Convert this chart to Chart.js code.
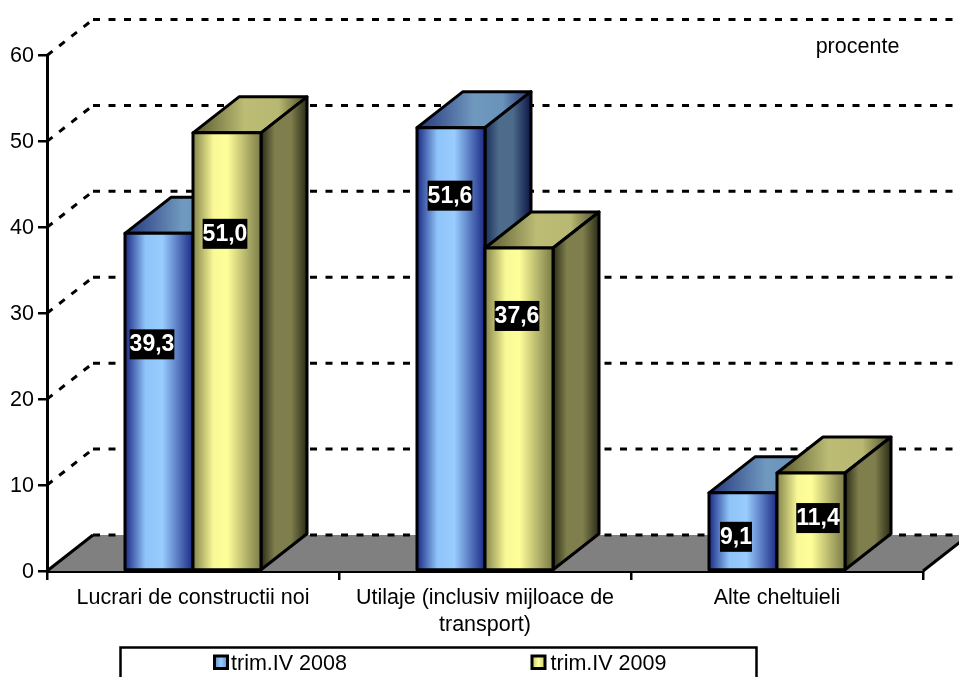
<!DOCTYPE html>
<html>
<head>
<meta charset="utf-8">
<style>
  html, body { margin: 0; background: #fff; overflow: hidden; }
  canvas { display: block; }
</style>
<script src="https://cdn.jsdelivr.net/npm/chart.js@4"></script>
</head>
<body>
<canvas id="grafic" width="959" height="677"></canvas>
<script>
const categories = ['Lucrari de constructii noi', ['Utilaje (inclusiv mijloace de', 'transport)'], 'Alte cheltuieli']
const trim2008 = [39.3, 51.6, 9.1]
const trim2009 = [51.0, 37.6, 11.4]
const seriesNames = ['trim.IV 2008', 'trim.IV 2009']

// 3d depth of the bars and the floor
const DX = 46
const DY = 36
const BAR_GROUP = 0.4658
const FONT = '"Liberation Sans", Arial, sans-serif'
const FONT_SIZE = 21.5

// the value labels were moved by hand in the original, [dx, dy] from the bar's top centre
const labelMoves = [
  [[-7, 111], [-1, 68], [-7, 44]],
  [[-2, 101], [-2, 68], [7, 45]]
]

const palette = [
  {
    front: [[0, '#1b2a85'], [0.3, '#8fc4f8'], [0.55, '#99ccff'], [1, '#1b2a85']],
    top: [[0, '#24367c'], [0.5, '#7099bf'], [0.75, '#6a93bb'], [1, '#1e2f70']],
    side: [[0, '#1a2f5c'], [0.3, '#4d6b8a'], [0.6, '#4d6b8a'], [1, '#0d1648']],
    swatch: '#5f92d0',
    swatchMid: '#99ccff'
  },
  {
    front: [[0, '#85854c'], [0.3, '#f8f896'], [0.5, '#ffff99'], [1, '#7a7a48']],
    top: [[0, '#56562c'], [0.45, '#bcbc75'], [0.75, '#b8b872'], [1, '#4a4a26']],
    side: [[0, '#2b2b16'], [0.3, '#7f7f4d'], [0.65, '#7f7f4d'], [1, '#2b2b16']],
    swatch: '#c8c878',
    swatchMid: '#ffff99'
  }
]

function hGrad(ctx, x0, x1, stops) {
  const g = ctx.createLinearGradient(x0, 0, x1, 0)
  stops.forEach(s => g.addColorStop(s[0], s[1]))
  return g
}

function poly(ctx, pts, fill) {
  ctx.beginPath()
  pts.forEach((p, i) => i ? ctx.lineTo(p[0], p[1]) : ctx.moveTo(p[0], p[1]))
  ctx.closePath()
  ctx.fillStyle = fill
  ctx.fill()
  ctx.stroke()
}

function frontColor(c) {
  const chart = c.chart
  const xs = chart.scales.x
  if (!xs || !chart.chartArea) return palette[c.datasetIndex].swatch
  const w = xs.width / categories.length * BAR_GROUP / 2
  const cx = xs.getPixelForValue(c.dataIndex)
  const x0 = c.datasetIndex === 0 ? cx - w : cx
  return hGrad(chart.ctx, x0, x0 + w, palette[c.datasetIndex].front)
}

function drawBack(chart) {
  const ctx = chart.ctx
  const a = chart.chartArea
  const ys = chart.scales.y
  const y0 = ys.getPixelForValue(0)
  ctx.save()
  ctx.strokeStyle = '#000'
  ctx.lineWidth = 3
  ctx.lineJoin = 'round'

  // floor
  ctx.beginPath()
  ctx.moveTo(a.left, y0)
  ctx.lineTo(a.left + DX, y0 - DY)
  ctx.lineTo(a.right + DX, y0 - DY)
  ctx.lineTo(a.right, y0)
  ctx.closePath()
  ctx.fillStyle = '#808080'
  ctx.fill()
  ctx.beginPath()
  ctx.moveTo(a.left, y0)
  ctx.lineTo(a.left + DX, y0 - DY)
  ctx.moveTo(a.right, y0)
  ctx.lineTo(a.right + DX, y0 - DY)
  ctx.stroke()

  // dashed grid on the wall
  ctx.setLineDash([7, 8.5])
  ys.ticks.forEach(t => {
    const y = ys.getPixelForValue(t.value)
    ctx.beginPath()
    ctx.moveTo(a.left + DX, y - DY)
    ctx.lineTo(a.right + DX, y - DY)
    ctx.stroke()
    if (t.value > 0) {
      ctx.beginPath()
      ctx.moveTo(a.left, y)
      ctx.lineTo(a.left + DX, y - DY)
      ctx.stroke()
    }
  })
  ctx.restore()
}

function drawBars(chart, index) {
  const ctx = chart.ctx
  const meta = chart.getDatasetMeta(index)
  const pal = palette[index]
  ctx.save()
  ctx.strokeStyle = '#000'
  ctx.lineWidth = 3
  ctx.lineJoin = 'round'
  meta.data.forEach(el => {
    const l = el.x - el.width / 2
    const r = el.x + el.width / 2
    poly(ctx, [[l, el.y], [l + DX, el.y - DY], [r + DX, el.y - DY], [r, el.y]], hGrad(ctx, l, r + DX, pal.top))
    poly(ctx, [[r, el.y], [r + DX, el.y - DY], [r + DX, el.base - DY], [r, el.base]], hGrad(ctx, r, r + DX, pal.side))
  })
  meta.controller.draw()
  meta.data.forEach(el => {
    ctx.strokeRect(el.x - el.width / 2, el.y, el.width, el.base - el.y)
  })
  ctx.restore()
}

function drawValueLabels(chart) {
  const ctx = chart.ctx
  ctx.save()
  ctx.font = 'bold 23px ' + FONT
  ctx.textAlign = 'center'
  ctx.textBaseline = 'middle'
  chart.data.datasets.forEach((ds, i) => {
    chart.getDatasetMeta(i).data.forEach((el, j) => {
      const txt = ds.data[j].toFixed(1).replace('.', ',')
      const x = el.x + labelMoves[i][j][0]
      const y = el.y + labelMoves[i][j][1]
      const w = ctx.measureText(txt).width
      ctx.fillStyle = '#000'
      ctx.fillRect(x - w / 2, y - 15, w, 30)
      ctx.fillStyle = '#fff'
      ctx.fillText(txt, x, y + 0.5)
    })
  })
  ctx.restore()
}

function drawLegend(chart) {
  const ctx = chart.ctx
  ctx.save()
  ctx.strokeStyle = '#000'
  ctx.lineWidth = 2.5
  ctx.beginPath()
  ctx.moveTo(120.5, 680)
  ctx.lineTo(120.5, 647.5)
  ctx.lineTo(756.5, 647.5)
  ctx.lineTo(756.5, 680)
  ctx.stroke()
  ctx.font = FONT_SIZE + 'px ' + FONT
  ctx.textBaseline = 'middle'
  ctx.textAlign = 'left'
  const starts = [214.5, 532]
  const textStarts = [231, 550.5]
  chart.data.datasets.forEach((ds, i) => {
    ctx.fillStyle = hGrad(ctx, starts[i], starts[i] + 13, [[0, palette[i].swatch], [0.5, palette[i].swatchMid], [1, palette[i].swatch]])
    ctx.lineWidth = 3
    ctx.fillRect(starts[i], 656, 13, 12.5)
    ctx.strokeRect(starts[i], 656, 13, 12.5)
    ctx.fillStyle = '#000'
    ctx.fillText(ds.label, textStarts[i], 664)
  })
  ctx.restore()
}

const tridi = {
  id: 'tridi',
  beforeDatasetsDraw(chart) {
    drawBack(chart)
    drawBars(chart, 0)
    drawBars(chart, 1)
  },
  beforeDatasetDraw() {
    return false
  },
  afterDatasetsDraw(chart) {
    drawValueLabels(chart)
  },
  afterDraw(chart) {
    const ctx = chart.ctx
    ctx.save()
    ctx.font = FONT_SIZE + 'px ' + FONT
    ctx.fillStyle = '#000'
    ctx.textAlign = 'center'
    ctx.textBaseline = 'middle'
    ctx.fillText('procente', 857.5, 47)
    ctx.restore()
    drawLegend(chart)
  }
}

new Chart(document.getElementById('grafic'), {
  type: 'bar',
  data: {
    labels: categories,
    datasets: [
      { label: seriesNames[0], data: trim2008, backgroundColor: frontColor },
      { label: seriesNames[1], data: trim2009, backgroundColor: frontColor }
    ]
  },
  plugins: [tridi],
  options: {
    responsive: false,
    animation: false,
    devicePixelRatio: 1,
    layout: { padding: { top: 55.5, right: 36, left: 0, bottom: 0 } },
    datasets: {
      bar: {
        barPercentage: 1,
        categoryPercentage: BAR_GROUP,
        borderWidth: 0,
        inflateAmount: 0
      }
    },
    plugins: { legend: { display: false }, tooltip: { enabled: false } },
    scales: {
      x: {
        z: 1,
        afterFit(s) { s.height = 106 },
        border: { color: '#000', width: 3 },
        grid: { offset: true, drawOnChartArea: false, color: '#000', lineWidth: 2.5, tickLength: 9 },
        ticks: {
          color: '#000',
          maxRotation: 0,
          autoSkip: false,
          padding: 4,
          font: { family: FONT, size: FONT_SIZE, lineHeight: 1.27 }
        }
      },
      y: {
        z: 1,
        min: 0,
        max: 60,
        afterFit(s) { s.width = 47 },
        border: { color: '#000', width: 3 },
        grid: { drawOnChartArea: false, color: '#000', lineWidth: 2.5, tickLength: 9 },
        ticks: {
          stepSize: 10,
          color: '#000',
          padding: 4,
          labelOffset: 1,
          font: { family: FONT, size: FONT_SIZE }
        }
      }
    }
  }
})
</script>
</body>
</html>
